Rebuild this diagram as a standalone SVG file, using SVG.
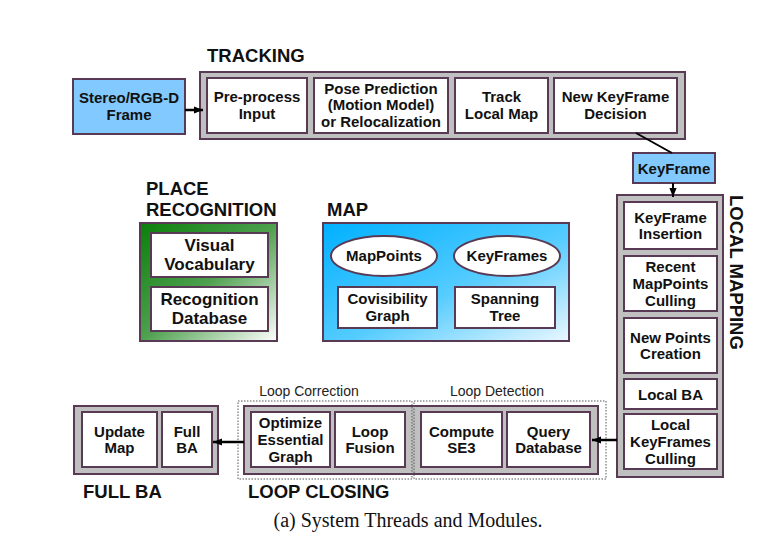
<svg xmlns="http://www.w3.org/2000/svg" width="772" height="540" viewBox="0 0 772 540">
<defs>
<linearGradient id="gGreen" x1="0" y1="0" x2="1" y2="1">
<stop offset="0" stop-color="#0a7f0a"/>
<stop offset="0.5" stop-color="#4ea04e"/>
<stop offset="1" stop-color="#ffffff"/>
</linearGradient>
<linearGradient id="gBlue" x1="0" y1="0" x2="1" y2="1">
<stop offset="0" stop-color="#00b0ff"/>
<stop offset="0.55" stop-color="#55ccff"/>
<stop offset="1" stop-color="#eaf7ff"/>
</linearGradient>
<marker id="arrS" viewBox="0 0 10 10" refX="10" refY="5" markerWidth="9" markerHeight="9" orient="auto" markerUnits="userSpaceOnUse">
<path d="M0,1 L10,5 L0,9 z" fill="#000"/>
</marker>
</defs>
<style>
.outer{fill:#c0c0c0;stroke:#583a55;stroke-width:2}
.box{fill:#fff;stroke:#583a55;stroke-width:2}
.blue{fill:#82c9ff;stroke:#583a55;stroke-width:2}
.dot{fill:none;stroke:#555;stroke-width:1;stroke-dasharray:1.5 1.5}
.t{font-family:"Liberation Sans",Arial,sans-serif;font-weight:bold;font-size:15px;fill:#111;text-anchor:middle}
.t17{font-family:"Liberation Sans",Arial,sans-serif;font-weight:bold;font-size:17px;fill:#111;text-anchor:middle}
.h{font-family:"Liberation Sans",Arial,sans-serif;font-weight:bold;font-size:18.5px;fill:#111}
.s{font-family:"Liberation Sans",Arial,sans-serif;font-size:14px;fill:#222;text-anchor:middle}
.cap{font-family:"Liberation Serif","Times New Roman",serif;font-size:20px;fill:#111;text-anchor:middle}
.line{fill:none;stroke:#000;stroke-width:2.5}
</style>

<g id="stereo">
<rect class="blue" x="73" y="79" width="112" height="55"/>
<text class="t" x="129" y="103">Stereo/RGB-D</text>
<text class="t" x="129" y="120">Frame</text>
</g>

<g id="tracking">
<text class="h" x="207" y="62">TRACKING</text>
<rect class="outer" x="200" y="72" width="485" height="67"/>
<g id="preprocess">
<rect class="box" x="207" y="78" width="100" height="55"/>
<text class="t" x="257" y="102">Pre-process</text>
<text class="t" x="257" y="119">Input</text>
</g>
<g id="pose">
<rect class="box" x="314" y="78" width="134" height="55"/>
<text class="t" x="381" y="93.5">Pose Prediction</text>
<text class="t" x="381" y="110">(Motion Model)</text>
<text class="t" x="381" y="126.5">or Relocalization</text>
</g>
<g id="tracklocal">
<rect class="box" x="455" y="78" width="93" height="55"/>
<text class="t" x="501.5" y="102">Track</text>
<text class="t" x="501.5" y="119">Local Map</text>
</g>
<g id="newkf">
<rect class="box" x="554" y="78" width="123" height="55"/>
<text class="t" x="615.5" y="102">New KeyFrame</text>
<text class="t" x="615.5" y="119">Decision</text>
</g>
</g>

<g id="keyframe">
<rect class="blue" x="633" y="153" width="82" height="30"/>
<text class="t" x="674" y="173.5">KeyFrame</text>
</g>

<g id="localmapping">
<rect class="outer" x="617" y="195" width="106" height="282"/>
<text class="h" transform="translate(730,195) rotate(90)">LOCAL MAPPING</text>
<g id="kfinsert">
<rect class="box" x="624" y="202" width="93" height="47"/>
<text class="t" x="670.5" y="222.5">KeyFrame</text>
<text class="t" x="670.5" y="239">Insertion</text>
</g>
<g id="recent">
<rect class="box" x="624" y="256" width="93" height="55"/>
<text class="t" x="670.5" y="272">Recent</text>
<text class="t" x="670.5" y="289">MapPoints</text>
<text class="t" x="670.5" y="306">Culling</text>
</g>
<g id="newpoints">
<rect class="box" x="624" y="318" width="93" height="55"/>
<text class="t" x="670.5" y="342.5">New Points</text>
<text class="t" x="670.5" y="359">Creation</text>
</g>
<g id="localba">
<rect class="box" x="624" y="379" width="93" height="30"/>
<text class="t" x="670.5" y="399.5">Local BA</text>
</g>
<g id="lkfculling">
<rect class="box" x="624" y="414" width="93" height="55"/>
<text class="t" x="670.5" y="430">Local</text>
<text class="t" x="670.5" y="447">KeyFrames</text>
<text class="t" x="670.5" y="464">Culling</text>
</g>
</g>

<g id="placerecognition">
<text class="h" x="146" y="195">PLACE</text>
<text class="h" x="146" y="216">RECOGNITION</text>
<rect x="140" y="223" width="137" height="118" fill="url(#gGreen)" stroke="#583a55" stroke-width="2"/>
<g id="vocab">
<rect class="box" x="151" y="233" width="117" height="44"/>
<text class="t17" x="209.5" y="251">Visual</text>
<text class="t17" x="209.5" y="270">Vocabulary</text>
</g>
<g id="recdb">
<rect class="box" x="151" y="287" width="117" height="44"/>
<text class="t17" x="209.5" y="305">Recognition</text>
<text class="t17" x="209.5" y="324">Database</text>
</g>
</g>

<g id="map">
<text class="h" x="327" y="216">MAP</text>
<rect x="323" y="223" width="246" height="118" fill="url(#gBlue)" stroke="#583a55" stroke-width="2"/>
<g id="mappoints">
<ellipse cx="384" cy="256" rx="53" ry="20" fill="#fff" stroke="#583a55" stroke-width="2"/>
<text class="t" x="384" y="261">MapPoints</text>
</g>
<g id="keyframes">
<ellipse cx="507" cy="256" rx="53" ry="20" fill="#fff" stroke="#583a55" stroke-width="2"/>
<text class="t" x="507" y="261">KeyFrames</text>
</g>
<g id="covis">
<rect class="box" x="338" y="287" width="99" height="41"/>
<text class="t" x="387.5" y="304">Covisibility</text>
<text class="t" x="387.5" y="321">Graph</text>
</g>
<g id="spanning">
<rect class="box" x="455" y="287" width="100" height="41"/>
<text class="t" x="505" y="304">Spanning</text>
<text class="t" x="505" y="321">Tree</text>
</g>
</g>

<g id="loopclosing">
<rect class="outer" x="244" y="406" width="354" height="68"/>
<rect class="dot" x="238" y="401" width="174" height="78"/>
<rect class="dot" x="414" y="401" width="192" height="78"/>
<text class="s" x="309" y="396">Loop Correction</text>
<text class="s" x="497" y="396">Loop Detection</text>
<text class="h" x="248" y="498">LOOP CLOSING</text>
<g id="optimize">
<rect class="box" x="251" y="412" width="79" height="55"/>
<text class="t" x="290.5" y="428">Optimize</text>
<text class="t" x="290.5" y="445">Essential</text>
<text class="t" x="290.5" y="462">Graph</text>
</g>
<g id="fusion">
<rect class="box" x="335" y="412" width="70" height="55"/>
<text class="t" x="370" y="436.5">Loop</text>
<text class="t" x="370" y="453">Fusion</text>
</g>
<g id="se3">
<rect class="box" x="421" y="412" width="81" height="55"/>
<text class="t" x="461.5" y="436.5">Compute</text>
<text class="t" x="461.5" y="453">SE3</text>
</g>
<g id="querydb">
<rect class="box" x="507" y="412" width="83" height="55"/>
<text class="t" x="548.5" y="436.5">Query</text>
<text class="t" x="548.5" y="453">Database</text>
</g>
</g>

<g id="fullba">
<rect class="outer" x="74" y="406" width="144" height="68"/>
<text class="h" x="83" y="498">FULL BA</text>
<g id="updatemap">
<rect class="box" x="82" y="412" width="75" height="55"/>
<text class="t" x="119.5" y="436.5">Update</text>
<text class="t" x="119.5" y="453">Map</text>
</g>
<g id="fullbainner">
<rect class="box" x="162" y="412" width="50" height="55"/>
<text class="t" x="187" y="436.5">Full</text>
<text class="t" x="187" y="453">BA</text>
</g>
</g>

<g id="connectors">
<line class="line" x1="185" y1="110" x2="203" y2="110" marker-end="url(#arrS)"/>
<line x1="636" y1="133" x2="672" y2="153" stroke="#000" stroke-width="2"/>
<line x1="673" y1="183" x2="673" y2="197" stroke="#000" stroke-width="2" marker-end="url(#arrS)"/>
<line class="line" x1="617" y1="440" x2="592" y2="440" marker-end="url(#arrS)"/>
<line class="line" x1="244" y1="442" x2="213" y2="442" marker-end="url(#arrS)"/>
</g>

<text class="cap" x="408" y="527">(a) System Threads and Modules.</text>
</svg>
